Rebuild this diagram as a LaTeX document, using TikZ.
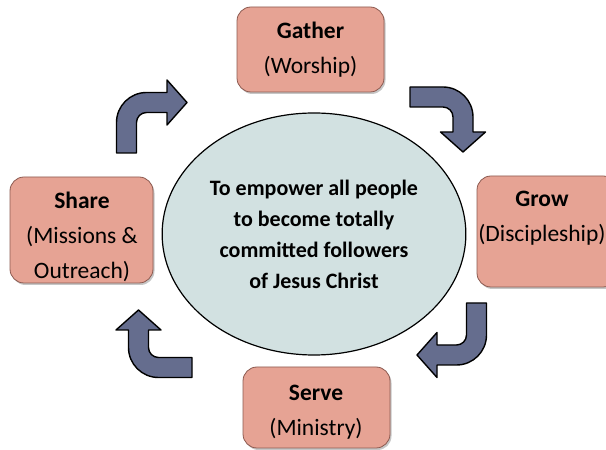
\documentclass[tikz,border=0pt]{standalone}
\usepackage{fontspec}
\setmainfont{Carlito}
\usetikzlibrary{shadows,shapes.geometric}
\definecolor{boxfill}{RGB}{230,163,148}
\definecolor{boxline}{RGB}{140,90,80}
\definecolor{ellfill}{RGB}{210,225,225}
\definecolor{arrowfill}{RGB}{101,109,142}
\tikzstyle{stagebox}=[draw=boxline, fill=boxfill, rounded corners=14pt, line width=0.8pt, drop shadow={shadow xshift=1.5pt, shadow yshift=-2pt, opacity=0.45}]
\tikzstyle{stagetext}=[align=center, font=\fontsize{23.5}{35}\selectfont]
\tikzstyle{turnarrow}=[draw=black, fill=arrowfill, line width=1.4pt, line join=round]
\newcommand{\drawturn}[5]{
% #1,#2 foot of the shaft, #3 rotation, #4 first leg, #5 second leg
\pgfmathsetmacro{\legA}{#4}
\pgfmathsetmacro{\legB}{#5}
\begin{scope}[shift={(#1,#2)}, rotate=#3]
\draw[turnarrow] (-10,0) -- (-10,\legA-20) arc[start angle=180, end angle=90, radius=30pt]
  -- (\legB,\legA+10) -- (\legB,\legA+22.5) -- (\legB+20,\legA) -- (\legB,\legA-22.5)
  -- (\legB,\legA-10) -- (20,\legA-10) arc[start angle=90, end angle=180, radius=10pt]
  -- (10,0) -- cycle;
\end{scope}
}

\begin{document}
\begin{tikzpicture}[x=1pt,y=1pt]
\useasboundingbox (0,0) rectangle (606,450);
\clip (0,0) rectangle (606,450);

% the four stages
\node[stagebox, minimum width=147pt, minimum height=85pt] (gather) at (310.5,400.5) {};
\node[stagebox, minimum width=140pt, minimum height=111pt] (grow) at (547,218.5) {};
\node[stagebox, minimum width=143pt, minimum height=106pt] (share) at (81.5,220) {};
\node[stagebox, minimum width=147pt, minimum height=81pt] (serve) at (316.5,42.5) {};

\node[stagetext] (gathertext) at (310.5,400) {\textbf{Gather}\\(Worship)};
\node[stagetext] (growtext) at (542,231.5) {\textbf{Grow}\\(Discipleship)};
\node[stagetext] (sharetext) at (82,213) {\textbf{Share}\\(Missions \&\\Outreach)};
\node[stagetext] (servetext) at (316,37.5) {\textbf{Serve}\\(Ministry)};

% mission in the middle
\node[ellipse, draw, fill=ellfill, line width=1.2pt, minimum width=302pt, minimum height=242pt,
  align=center, font=\bfseries\fontsize{22}{31}\selectfont] (mission) at (314,216)
  {To empower all people\\to become totally\\committed followers\\of Jesus Christ};

% arrows
\drawturn{126.5}{297}{0}{50.5}{40.5}
\drawturn{410}{353}{-90}{53}{35}
\drawturn{476.5}{147}{180}{52}{39.5}
\drawturn{192}{82.5}{90}{53.5}{37.5}
\end{tikzpicture}
\end{document}
